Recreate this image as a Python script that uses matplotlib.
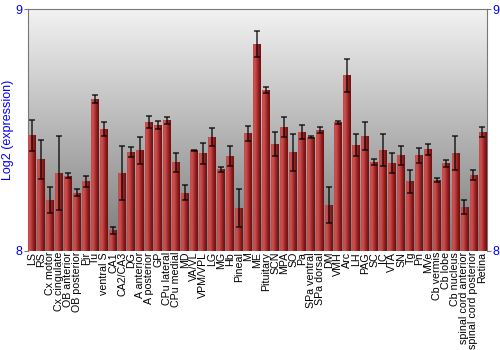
import numpy as np
import matplotlib
matplotlib.use("Agg")
import matplotlib.pyplot as plt
from matplotlib.colors import LinearSegmentedColormap

regions = ["LS", "RS", "Cx motor", "Cx cingulate", "OB anterior", "OB posterior", "Pir", "Tu",
           "ventral S", "CA1", "CA2/CA3", "DG", "A anterior", "A posterior", "GP", "CPu lateral",
           "CPu medial", "MD", "VA/VL", "VPM/VPL", "LG", "MG", "Hb", "Pineal", "M", "ME",
           "Pituitary", "SCN", "MPA", "SO", "Pa", "SPa ventral", "SPa dorsal", "DM", "VMH", "Arc",
           "LH", "PAG", "SC", "IC", "VTA", "SN", "Tg", "Pn", "MVe", "Cb vermis", "Cb lobe",
           "Cb nucleus", "spinal cord anterior", "spinal cord posterior", "Retina"]
expr = [8.479, 8.378, 8.210, 8.322, 8.310, 8.240, 8.288, 8.629, 8.504, 8.084, 8.320, 8.410,
        8.416, 8.533, 8.522, 8.540, 8.366, 8.240, 8.417, 8.403, 8.470, 8.338, 8.391, 8.176,
        8.486, 8.857, 8.666, 8.441, 8.512, 8.407, 8.492, 8.471, 8.499, 8.189, 8.532, 8.727,
        8.439, 8.476, 8.367, 8.417, 8.362, 8.396, 8.287, 8.396, 8.420, 8.293, 8.362, 8.405,
        8.182, 8.313, 8.492]
err = [0.064, 0.082, 0.054, 0.153, 0.010, 0.015, 0.023, 0.017, 0.030, 0.015, 0.112, 0.021,
       0.055, 0.026, 0.017, 0.015, 0.038, 0.030, 0.002, 0.044, 0.037, 0.010, 0.042, 0.080,
       0.031, 0.053, 0.014, 0.050, 0.042, 0.078, 0.030, 0.003, 0.012, 0.076, 0.006, 0.068,
       0.046, 0.057, 0.014, 0.068, 0.041, 0.039, 0.049, 0.031, 0.023, 0.009, 0.014, 0.072,
       0.029, 0.022, 0.020]
ylim = (8, 9)

plt.rcParams["font.family"] = ["Liberation Sans", "DejaVu Sans"]
fig = plt.figure(figsize=(5, 3.5), dpi=100, facecolor="white")
ax = fig.add_axes([0.055, 0.284, 0.919, 0.689])

x = np.arange(len(regions))
ax.set_xlim(-0.5, len(regions) - 0.5)
ax.set_ylim(*ylim)

# background: light at top, dark grey at bottom
bg = LinearSegmentedColormap.from_list("bg", ["#7a7a7a", "#f2f2f2"])
ax.imshow(np.linspace(0, 1, 256)[:, None], aspect="auto", cmap=bg, origin="lower",
          extent=(-0.5, len(regions) - 0.5, ylim[0], ylim[1]), zorder=0)

bars = ax.bar(x, np.array(expr) - ylim[0], bottom=ylim[0], width=0.88,
              color="#b83a3a", edgecolor="none", zorder=2)
barmap = LinearSegmentedColormap.from_list("bar", ["#c44a4a", "#cc5050", "#b03434", "#8a1c1c", "#6e1010"])
grad = np.linspace(0, 1, 32)[None, :]
for b in bars:
    x0, y0 = b.get_x(), b.get_y()
    ax.imshow(grad, aspect="auto", cmap=barmap,
              extent=(x0, x0 + b.get_width(), y0, y0 + b.get_height()), zorder=3)

ax.errorbar(x, expr, yerr=err, fmt="none", ecolor="black", alpha=0.75,
            elinewidth=1.2, capsize=2.2, capthick=1.2, zorder=4)

ax.set_xticks(x)
ax.set_xticklabels(regions, rotation=90, fontsize=7.7, color="black")
ax.tick_params(axis="x", length=0, pad=1)
ax.set_yticks([8, 9])
ax.tick_params(axis="y", which="both", left=True, right=True, labelleft=True, labelright=True,
               colors="#777777", labelcolor="blue", labelsize=9, length=3, pad=1)
ax.set_ylabel("Log2 (expression)", color="blue", fontsize=9, labelpad=1)
for side in ["top", "left", "right"]:
    ax.spines[side].set_color("#777777")
ax.spines["bottom"].set_visible(False)

fig.savefig("out.png", dpi=100)
